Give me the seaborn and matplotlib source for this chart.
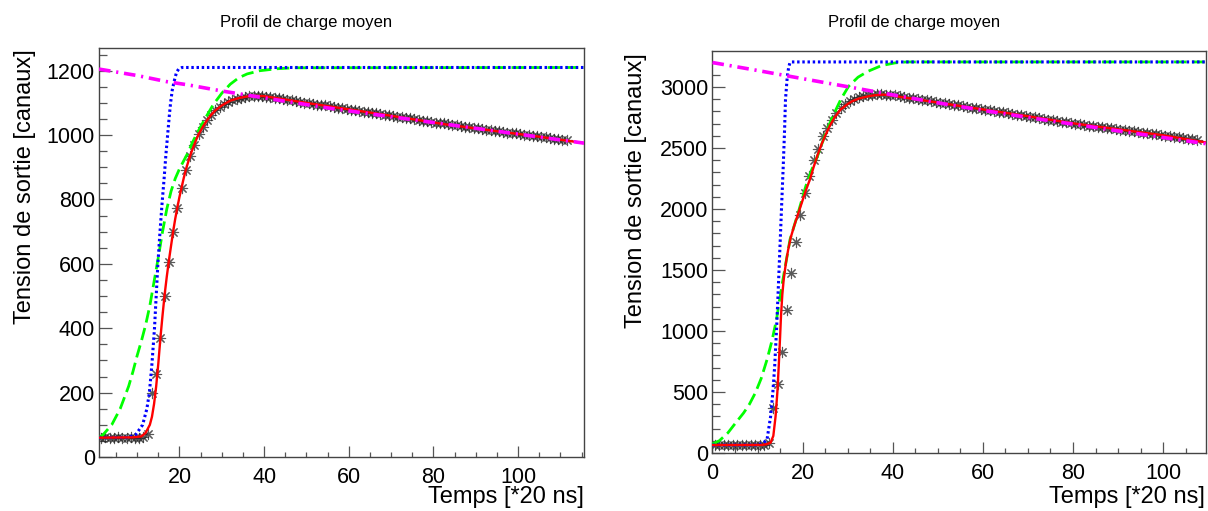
import numpy as np
import matplotlib
matplotlib.use("Agg")
import matplotlib.pyplot as plt
from matplotlib.ticker import MultipleLocator
import seaborn as sns

# --- left profile (time in units of 20 ns) ---
left_start = 1.5
left_data = [60, 61, 59, 60, 61, 60, 59, 61, 60, 60, 61,
             72, 200, 258, 370, 500, 607, 698, 775, 837, 892, 935, 970, 1002, 1025,
             1046, 1063, 1077, 1088, 1097, 1104, 1109, 1113, 1116, 1119, 1121, 1122,
             1122, 1121, 1119,
             1117, 1115, 1114, 1111, 1109, 1108, 1105, 1103, 1101, 1100,
             1097, 1095, 1093, 1092, 1089, 1087, 1085, 1084, 1081, 1079,
             1077, 1076, 1073, 1071, 1069, 1068, 1065, 1063, 1061, 1060,
             1057, 1055, 1053, 1052, 1049, 1047, 1045, 1044, 1041, 1039,
             1037, 1036, 1033,
             1031, 1030, 1028, 1026, 1024, 1022, 1021, 1019, 1017, 1015,
             1014, 1012, 1010, 1008, 1007, 1005, 1003, 1001, 1000, 998,
             996, 994, 993, 991, 989, 987, 986, 984]

left_fit_x = [1, 9, 11, 12, 13, 13.5, 14, 14.5, 15, 15.5, 16, 16.5, 17, 17.5, 18, 18.5,
              19, 19.5, 20, 20.5, 21, 21.5, 22, 22.5, 23, 23.5, 24, 24.5, 25.5, 26.5,
              27.5, 28.5, 30, 32, 34, 36, 38, 40, 50, 60, 70, 83, 95, 105, 115.6]
left_fit_y = [60, 61, 64, 75, 100, 125, 165, 220, 290, 370, 440, 505, 560, 610, 655, 700,
              740, 775, 808, 837, 866, 892, 914, 935, 953, 970, 987, 1002, 1025, 1046,
              1063, 1077, 1092, 1107, 1115, 1120, 1122, 1121, 1100, 1080, 1060, 1033,
              1012, 995, 975]

left_blue_x = [1, 8, 9.7, 11.3, 12.3, 12.9, 13.5, 14.1, 14.5, 14.9, 15.4, 15.9, 16.4,
               16.8, 17.2, 17.6, 17.9, 18.3, 18.8, 19.3, 19.8, 20.6, 115.6]
left_blue_y = [60, 61, 70, 100, 150, 200, 290, 400, 500, 600, 700, 790, 870,
               940, 1000, 1060, 1100, 1140, 1170, 1195, 1205, 1210, 1210]

left_green_x = [1, 2, 3, 4, 5, 6, 7, 8, 9, 10, 11, 12, 13, 14, 15, 16, 17, 18, 19, 20,
                21, 22, 23, 24, 26, 28, 30, 32, 34, 36, 39, 43, 47, 115.6]
left_green_y = [60, 70, 85, 100, 125, 150, 185, 220, 265, 315, 360, 410, 470, 545, 620,
                700, 770, 825, 865, 895, 920, 945, 975, 1002, 1050, 1095, 1130, 1158,
                1178, 1190, 1200, 1206, 1209, 1210]

left_mag_x = [1, 10, 17, 22, 30, 35.6, 45, 55.7, 70, 85, 100, 115.6]
left_mag_y = [1205, 1185, 1166, 1156, 1137, 1125, 1105, 1083, 1057, 1030, 1003, 975]

# --- right profile ---
right_start = 0.5
right_data = [66, 64, 65, 67, 65, 64, 66, 65, 64, 66, 65, 67,
              80, 369, 568, 828, 1175, 1475, 1727, 1953, 2131, 2273,
              2399, 2495, 2596, 2664, 2732, 2785, 2825, 2858, 2883, 2902,
              2917, 2927, 2934, 2938, 2940, 2940, 2938, 2934,
              2930, 2925, 2919, 2913, 2908, 2902, 2896, 2890, 2884, 2878,
              2872, 2867, 2861, 2855, 2849, 2843, 2837, 2831, 2826, 2820,
              2814, 2808, 2802, 2797, 2791, 2785, 2779, 2773, 2768, 2762,
              2756, 2750, 2744, 2739, 2733, 2727, 2721, 2716, 2710, 2704,
              2699, 2694, 2689, 2684, 2679, 2674, 2669, 2665, 2660, 2655,
              2650, 2645, 2640, 2635, 2630, 2626, 2621, 2616, 2611, 2606,
              2601, 2596, 2591, 2587, 2582, 2577, 2572, 2567]

right_fit_x = [0, 11, 12, 12.9, 13.5, 14, 14.4, 14.7, 15, 15.2, 15.5, 15.8, 16.3, 16.8,
               17.4, 18.1, 19, 19.8, 20.7, 21.6, 22.5, 23.3, 24.2, 25, 26, 27, 28.4, 30,
               31, 32.5, 34.5, 36, 37.9, 40, 50, 60, 70, 80, 90, 100, 109.5]
right_fit_y = [65, 66, 72, 85, 140, 300, 500, 710, 950, 1120, 1300, 1420, 1560, 1667,
               1770, 1858, 1960, 2049, 2150, 2240, 2350, 2440, 2530, 2600, 2680, 2745,
               2814, 2860, 2883, 2905, 2923, 2932, 2937, 2928, 2872, 2816, 2760, 2702,
               2653, 2604, 2545]

right_blue_x = [0, 10, 11.2, 12.1, 12.9, 13.4, 13.8, 14.2, 14.5, 14.8, 15.1, 15.4, 15.7,
                16.0, 16.2, 16.6, 16.9, 17.2, 17.6, 109.5]
right_blue_y = [65, 66, 80, 109, 300, 500, 710, 1000, 1257, 1530, 1803, 2080, 2350,
                2650, 2896, 3087, 3160, 3200, 3205, 3205]

right_green_x = [0, 1.5, 3.4, 5, 6.9, 8.2, 9.5, 10.8, 12.1, 13.2, 14.2, 15.5, 17.2, 19,
                 20.7, 22, 23.3, 25, 26.7, 28.5, 30.2, 32.3, 34.5, 37.5, 40.5, 43, 109.5]
right_green_y = [75, 100, 164, 240, 328, 400, 492, 610, 765, 920, 1093, 1393, 1749, 1967,
                 2186, 2320, 2432, 2610, 2760, 2900, 3005, 3080, 3128, 3175, 3197, 3205,
                 3205]

right_mag_x = [0, 10, 20, 30, 40, 50, 60, 70, 80, 90, 100, 109.5]
right_mag_y = [3200, 3135, 3068, 3002, 2935, 2870, 2808, 2750, 2695, 2640, 2586, 2535]

sns.set_theme(style="white")
plt.rcParams["font.family"] = ["Liberation Sans", "DejaVu Sans"]
plt.rcParams["text.color"] = "black"
plt.rcParams["xtick.color"] = "black"
plt.rcParams["ytick.color"] = "black"

fig = plt.figure(figsize=(12.08, 5.11), dpi=100)

panels = [
    dict(rect=[0.082, 0.1057, 0.4015, 0.8013], xlim=(1, 115.6), ylim=(0, 1272),
         ymaj=200, ymin=50, start=left_start, data=left_data,
         fit=(left_fit_x, left_fit_y), blue=(left_blue_x, left_blue_y),
         green=(left_green_x, left_green_y), mag=(left_mag_x, left_mag_y),
         title_x=306, ylab=(25, 49), xlab_right=584),
    dict(rect=[0.5898, 0.1135, 0.4085, 0.7875], xlim=(0, 109.5), ylim=(0, 3298),
         ymaj=500, ymin=100, start=right_start, data=right_data,
         fit=(right_fit_x, right_fit_y), blue=(right_blue_x, right_blue_y),
         green=(right_green_x, right_green_y), mag=(right_mag_x, right_mag_y),
         title_x=914, ylab=(636, 53), xlab_right=1205),
]

W, H = 1208, 511
for p in panels:
    ax = fig.add_axes(p["rect"])
    t = p["start"] + np.arange(len(p["data"]))

    # measured points
    sns.scatterplot(x=t, y=p["data"], ax=ax, marker=(8, 2, 0), s=55,
                    color="#222222", linewidth=0.8, alpha=0.75, zorder=2)
    # fitted / model curves
    sns.lineplot(x=p["green"][0], y=p["green"][1], ax=ax, sort=False, estimator=None,
                 color="#00ff00", lw=2.0, linestyle=(0, (4.5, 2.0)), zorder=3)
    sns.lineplot(x=p["blue"][0], y=p["blue"][1], ax=ax, sort=False, estimator=None,
                 color="#0000ff", lw=2.2, linestyle=(0, (0.8, 0.9)), zorder=4)
    sns.lineplot(x=p["fit"][0], y=p["fit"][1], ax=ax, sort=False, estimator=None,
                 color="#ff0000", lw=1.7, zorder=5)
    sns.lineplot(x=p["mag"][0], y=p["mag"][1], ax=ax, sort=False, estimator=None,
                 color="#ff00ff", lw=2.6, linestyle=(0, (3.2, 1.6, 0.6, 1.6)), zorder=6)

    ax.set_xlim(*p["xlim"])
    ax.set_ylim(*p["ylim"])
    ax.xaxis.set_major_locator(MultipleLocator(20))
    ax.xaxis.set_minor_locator(MultipleLocator(5))
    ax.yaxis.set_major_locator(MultipleLocator(p["ymaj"]))
    ax.yaxis.set_minor_locator(MultipleLocator(p["ymin"]))
    ax.tick_params(axis="x", which="major", direction="in", length=8, width=0.9,
                   pad=7, labelsize=15.5, color="#555555", labelcolor="black")
    ax.tick_params(axis="x", which="minor", direction="in", length=3.5, width=0.9,
                   color="#555555")
    ax.tick_params(axis="y", which="major", direction="in", length=9.5, width=0.9,
                   pad=3, labelsize=15.5, color="#555555", labelcolor="black")
    ax.tick_params(axis="y", which="minor", direction="in", length=5.5, width=0.9,
                   color="#555555")
    ax.tick_params(which="both", bottom=True, left=True, top=False, right=False)
    for s in ax.spines.values():
        s.set_color("#444444")
        s.set_linewidth(1.0)
    ax.set_xlabel("")
    ax.set_ylabel("")

    fig.text(p["title_x"] / W, 1 - 22 / H, "Profil de charge moyen",
             ha="center", va="center", fontsize=12, color="black")
    fig.text(p["xlab_right"] / W, 1 - 497 / H, "Temps [*20 ns]",
             ha="right", va="center", fontsize=17, color="black")
    fig.text(p["ylab"][0] / W, 1 - p["ylab"][1] / H, "Tension de sortie [canaux]",
             rotation=90, ha="center", va="top", fontsize=17, color="black")

fig.savefig("out.png", dpi=100)
